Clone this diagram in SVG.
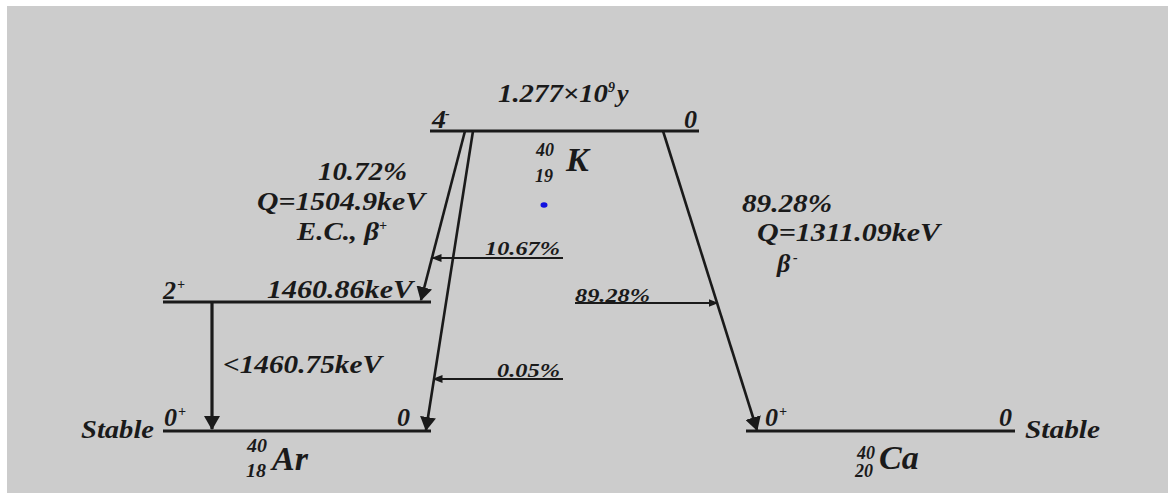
<svg xmlns="http://www.w3.org/2000/svg" width="1168" height="493" viewBox="0 0 1168 493">
<style>
text{font-family:"Liberation Serif","Times New Roman",serif;font-weight:bold;font-style:italic;fill:#1a1a1a}
.big{font-size:26px}
.sm{font-size:19px}
.sup{font-size:14px}
.iso{font-size:18px}
.el{font-size:34px}
.lvl{stroke:#1a1a1a;stroke-width:3.2;fill:none}
.tr{stroke:#1a1a1a;stroke-width:2.6;fill:none}
.thin{stroke:#1a1a1a;stroke-width:2;fill:none}
</style>
<defs>
<marker id="ah" viewBox="0 0 14 16" refX="13" refY="8" markerWidth="14" markerHeight="16" markerUnits="userSpaceOnUse" orient="auto">
<path d="M0,0 L14,8 L0,16 Z" fill="#1a1a1a"/>
</marker>
<marker id="as" viewBox="0 0 10 8" refX="9.5" refY="4" markerWidth="10" markerHeight="8" markerUnits="userSpaceOnUse" orient="auto">
<path d="M0,0 L10,4 L0,8 Z" fill="#1a1a1a"/>
</marker>
</defs>
<rect x="7" y="6" width="1161" height="487" fill="#cccccc"/>

<g id="K40">
<line class="lvl" x1="430" y1="131" x2="699" y2="131"/>
<text class="big" x="432" y="128" textLength="14" lengthAdjust="spacingAndGlyphs">4</text>
<text class="sup" x="445" y="118">-</text>
<text class="big" x="684" y="128">0</text>
<text class="big" x="498" y="102" textLength="110" lengthAdjust="spacingAndGlyphs">1.277×10</text>
<text class="sup" x="608" y="92">9</text>
<text class="big" x="617" y="102">y</text>
<text class="iso" x="536" y="156" textLength="18" lengthAdjust="spacingAndGlyphs">40</text>
<text class="iso" x="535" y="182" textLength="18" lengthAdjust="spacingAndGlyphs">19</text>
<text class="el" x="566" y="171">K</text>
<ellipse cx="544" cy="205" rx="3.5" ry="2.8" fill="#1010e0"/>
</g>

<g id="Ar40-excited">
<line class="lvl" x1="163" y1="302" x2="431" y2="302"/>
<text class="big" x="163" y="299">2</text>
<text class="sup" x="177" y="289">+</text>
<text class="big" x="267" y="298" textLength="146" lengthAdjust="spacingAndGlyphs">1460.86keV</text>
</g>

<g id="Ar40-ground">
<line class="lvl" x1="163" y1="431" x2="431" y2="431"/>
<text class="big" x="81" y="438" textLength="73" lengthAdjust="spacingAndGlyphs">Stable</text>
<text class="big" x="164" y="426">0</text>
<text class="sup" x="178" y="416">+</text>
<text class="big" x="397" y="426">0</text>
<text class="iso" x="247" y="452" textLength="20" lengthAdjust="spacingAndGlyphs">40</text>
<text class="iso" x="246" y="477" textLength="20" lengthAdjust="spacingAndGlyphs">18</text>
<text class="el" x="272" y="470">Ar</text>
</g>

<g id="Ca40">
<line class="lvl" x1="746" y1="431" x2="1015" y2="431"/>
<text class="big" x="765" y="426">0</text>
<text class="sup" x="779" y="416">+</text>
<text class="big" x="999" y="426">0</text>
<text class="big" x="1025" y="438" textLength="75" lengthAdjust="spacingAndGlyphs">Stable</text>
<text class="iso" x="857" y="459" textLength="18" lengthAdjust="spacingAndGlyphs">40</text>
<text class="iso" x="855" y="477" textLength="18" lengthAdjust="spacingAndGlyphs">20</text>
<text class="el" x="879" y="469">Ca</text>
</g>

<g id="labels">
<text class="big" x="318" y="180" textLength="89" lengthAdjust="spacingAndGlyphs">10.72%</text>
<text class="big" x="257" y="210" textLength="168" lengthAdjust="spacingAndGlyphs">Q=1504.9keV</text>
<text class="big" x="297" y="240" textLength="82" lengthAdjust="spacingAndGlyphs">E.C., β</text>
<text class="sup" x="379" y="230">+</text>
<text class="big" x="742" y="212" textLength="90" lengthAdjust="spacingAndGlyphs">89.28%</text>
<text class="big" x="757" y="241" textLength="183" lengthAdjust="spacingAndGlyphs">Q=1311.09keV</text>
<text class="big" x="777" y="272">β</text>
<text class="sup" x="793" y="262">-</text>
<text class="big" x="223" y="373" textLength="159" lengthAdjust="spacingAndGlyphs">&lt;1460.75keV</text>
<text class="sm" x="485" y="255" textLength="75" lengthAdjust="spacingAndGlyphs">10.67%</text>
<text class="sm" x="575" y="302" textLength="75" lengthAdjust="spacingAndGlyphs">89.28%</text>
<text class="sm" x="497" y="377" textLength="63" lengthAdjust="spacingAndGlyphs">0.05%</text>
</g>

<g id="connectors">
<line class="tr" x1="465" y1="131" x2="421" y2="300" marker-end="url(#ah)"/>
<line class="tr" x1="473" y1="131" x2="426" y2="430" marker-end="url(#ah)"/>
<line class="tr" x1="663" y1="131" x2="757" y2="430" marker-end="url(#ah)"/>
<line class="lvl" x1="212" y1="303" x2="212" y2="429" marker-end="url(#ah)"/>
<line class="thin" x1="563" y1="258" x2="432" y2="258" marker-end="url(#as)"/>
<line class="thin" x1="575" y1="303" x2="718" y2="303" marker-end="url(#as)"/>
<line class="thin" x1="563" y1="379" x2="433" y2="379" marker-end="url(#as)"/>
</g>
</svg>
